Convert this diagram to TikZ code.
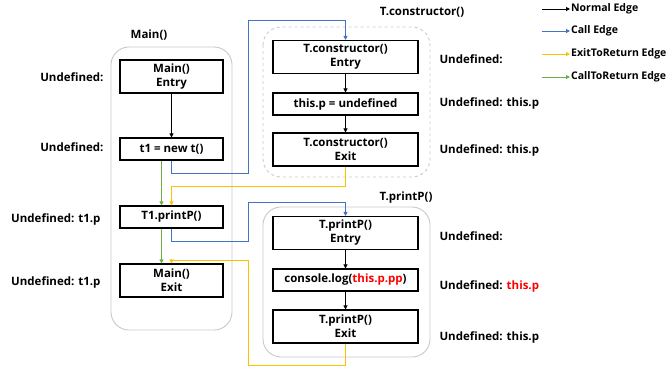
\documentclass[tikz,border=0pt]{standalone}
\usepackage{fontspec}
\setmainfont{Open Sans}
\usetikzlibrary{arrows.meta}
\definecolor{callblue}{RGB}{68,114,196}
\definecolor{retorange}{RGB}{255,192,0}
\definecolor{ctrgreen}{RGB}{112,173,71}
\definecolor{grpgray}{RGB}{200,200,200}
\begin{document}
\begin{tikzpicture}[x=1pt,y=-1pt,
	font=\bfseries\fontsize{11.5}{14}\selectfont,
	blk/.style={draw,line width=1.1pt,minimum width=145pt,minimum height=22pt,align=center,inner sep=1pt},
	tall/.style={minimum height=33pt},
	edge/.style={line width=1pt,-{Triangle[length=4pt,width=4pt]}},
	nedge/.style={edge,black},
	cedge/.style={edge,callblue},
	redge/.style={edge,retorange},
	gedge/.style={edge,ctrgreen},
	grp/.style={grpgray,line width=.9pt,rounded corners=18pt}]
	\useasboundingbox (0,0) rectangle (666,370);
	\def\ch{248}% kenh doc giua hai cot
	% ---- Main()
	\draw[grp] (111,47) rectangle (232,330);
	\node (tmain) at (149,35) {Main()};
	\begin{scope}[blk/.append style={minimum width=103pt}]
		\node[blk,tall] (mentry) at (171.5,76.5) {Main()\\Entry};
		\node[blk] (mnew) at (171.5,149) {t1 = new t()};
		\node[blk] (mprint) at (171.5,217) {T1.printP()};
		\node[blk,tall] (mexit) at (171.5,280.5) {Main()\\Exit};
	\end{scope}
	\node[anchor=east] (umentry) at (107,77) {Undefined:};
	\node[anchor=east] (umnew) at (107,147) {Undefined:};
	\node[anchor=east] (umprint) at (104,219) {Undefined: t1.p};
	\node[anchor=east] (umexit) at (104,282) {Undefined: t1.p};
	% ---- T.constructor()
	\draw[grp,dashed] (263,27) rectangle (430,177);
	\node (tcons) at (422,12) {T.constructor()};
	\node[blk,tall] (centry) at (345.5,57) {T.constructor()\\Entry};
	\node[blk] (cassign) at (345.5,104) {this.p = undefined};
	\node[blk,tall] (cexit) at (345.5,149.5) {T.constructor()\\Exit};
	\node[anchor=west] (ucentry) at (436,59) {Undefined:};
	\node[anchor=west] (ucassign) at (436,103) {Undefined: this.p};
	\node[anchor=west] (ucexit) at (436,150) {Undefined: this.p};
	% ---- T.printP()
	\draw[grp] (263,207) rectangle (430,357);
	\node (tprint) at (406,198) {T.printP()};
	\node[blk,tall] (pentry) at (345.5,233) {T.printP()\\Entry};
	\node[blk] (plog) at (345.5,280) {console.log(\textcolor{red}{this.p.pp})};
	\node[blk,tall] (pexit) at (345.5,326.5) {T.printP()\\Exit};
	\node[anchor=west] (upentry) at (436,236) {Undefined:};
	\node[anchor=west] (uplog) at (436,286) {Undefined: \textcolor{red}{this.p}};
	\node[anchor=west] (upexit) at (436,337) {Undefined: this.p};
	% ---- edges
	\draw[nedge] (mentry) -- (mnew);
	\draw[nedge] (centry) -- (cassign);
	\draw[nedge] (cassign) -- (cexit);
	\draw[nedge] (pentry) -- (plog);
	\draw[nedge] (plog) -- (pexit);
	\draw[gedge] ([xshift=-10pt]mnew.south) -- ([xshift=-10pt]mprint.north);
	\draw[gedge] ([xshift=-10pt]mprint.south) -- ([xshift=-10pt]mexit.north);
	\draw[cedge] (mnew.south) -- ++(0,13) -| (\ch,20) -| (centry.north);
	\draw[cedge] (mprint.south) -- ++(0,13) -| (\ch,202) -| (pentry.north);
	\draw[redge] (cexit.south) -- ++(0,20) -| (mprint.north);
	\draw[redge] (pexit.south) -- ++(0,22) -| (\ch,260) -| (mexit.north);
	% ---- legend
	\foreach \i/\y/\c/\t in {1/9/black/Normal Edge,2/31/callblue/Call Edge,
		3/54/retorange/ExitToReturn Edge,4/77/ctrgreen/CallToReturn Edge}{
		\coordinate (lg\i) at (542,\y);
		\node[anchor=west,inner sep=1pt,font=\bfseries\fontsize{10.5}{12}\selectfont] (lt\i) at (570,\y) {\t};
		\draw[edge,\c] (lg\i) -- (lt\i.west);
	}
\end{tikzpicture}
\end{document}
